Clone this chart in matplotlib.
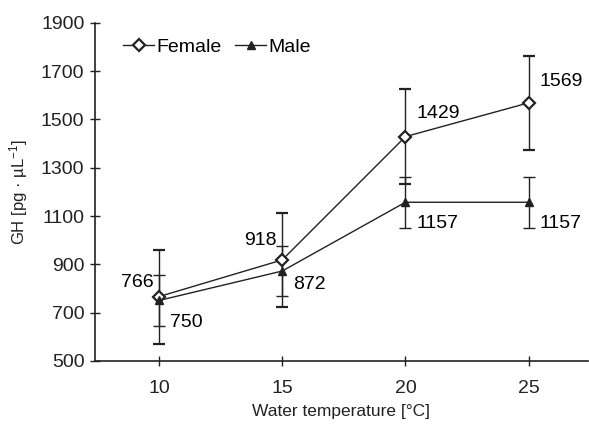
import matplotlib
matplotlib.use('Agg')
import matplotlib.pyplot as plt
from matplotlib.lines import Line2D

fam = 'Liberation Sans'
plt.rcParams['font.family'] = [fam, 'DejaVu Sans']
plt.rcParams['mathtext.fontset'] = 'custom'
plt.rcParams['mathtext.rm'] = fam
plt.rcParams['mathtext.it'] = fam

temps = [10, 15, 20, 25]
female = [766, 918, 1429, 1569]
male = [750, 872, 1157, 1157]
female_err = [195, 195, 197, 196]
male_err = [105, 104, 105, 105]

ink = '#222222'
fig = plt.figure(figsize=(5.89, 4.25), dpi=100)
ax = fig.add_axes([0.161, 0.151, 0.837, 0.795])

ax.errorbar(temps, female, yerr=female_err, color=ink, lw=1, elinewidth=1,
            capsize=4, capthick=1, marker='D', ms=6, mfc='white', mec=ink,
            mew=1.6, zorder=3)
ax.errorbar(temps, male, yerr=male_err, color=ink, lw=1, elinewidth=1,
            capsize=4, capthick=1, marker='^', ms=6, mfc=ink, mec=ink, zorder=3)

# value labels
fs = 14
ax.annotate(str(female[0]), (temps[0], female[0]), xytext=(-4, 10), textcoords='offset points',
            ha='right', va='center', fontsize=fs)
ax.annotate(str(male[0]), (temps[0], male[0]), xytext=(8, -16), textcoords='offset points',
            ha='left', va='center', fontsize=fs)
ax.annotate(str(female[1]), (temps[1], female[1]), xytext=(-4, 14), textcoords='offset points',
            ha='right', va='center', fontsize=fs)
ax.annotate(str(male[1]), (temps[1], male[1]), xytext=(8, -10), textcoords='offset points',
            ha='left', va='center', fontsize=fs)
for i in (2, 3):
    ax.annotate(str(female[i]), (temps[i], female[i]), xytext=(8, 17 if i == 2 else 15),
                textcoords='offset points', ha='left', va='center', fontsize=fs)
    ax.annotate(str(male[i]), (temps[i], male[i]), xytext=(8, -15), textcoords='offset points',
                ha='left', va='center', fontsize=fs)

ax.set_xlim(7.4, 27.4)
ax.set_ylim(500, 1900)
ax.set_xticks(temps)
ax.set_yticks(range(500, 2000, 200))
ax.tick_params(direction='inout', length=7, width=1, labelsize=14, colors=ink, pad=4)
ax.tick_params(axis='x', pad=10)
for s in ('top', 'right'):
    ax.spines[s].set_visible(False)
for s in ('left', 'bottom'):
    ax.spines[s].set_linewidth(1.2)
    ax.spines[s].set_color(ink)

ax.set_xlabel('Water temperature [°C]', fontsize=12.5, labelpad=5, color=ink)
ax.set_ylabel('GH [pg · µL$^{-1}$]', fontsize=12, labelpad=8, color=ink)

handles = [Line2D([], [], color=ink, lw=1, marker='D', ms=6, mfc='white', mec=ink, mew=1.6),
           Line2D([], [], color=ink, lw=1, marker='^', ms=6, mfc=ink, mec=ink)]
ax.legend(handles, ['Female', 'Male'], loc='upper left', bbox_to_anchor=(0.03, 0.995), ncol=2,
          frameon=False, fontsize=14, handlelength=1.6, handletextpad=0.1, columnspacing=0.7,
          borderaxespad=0.3)

fig.savefig('out.png', dpi=100)
